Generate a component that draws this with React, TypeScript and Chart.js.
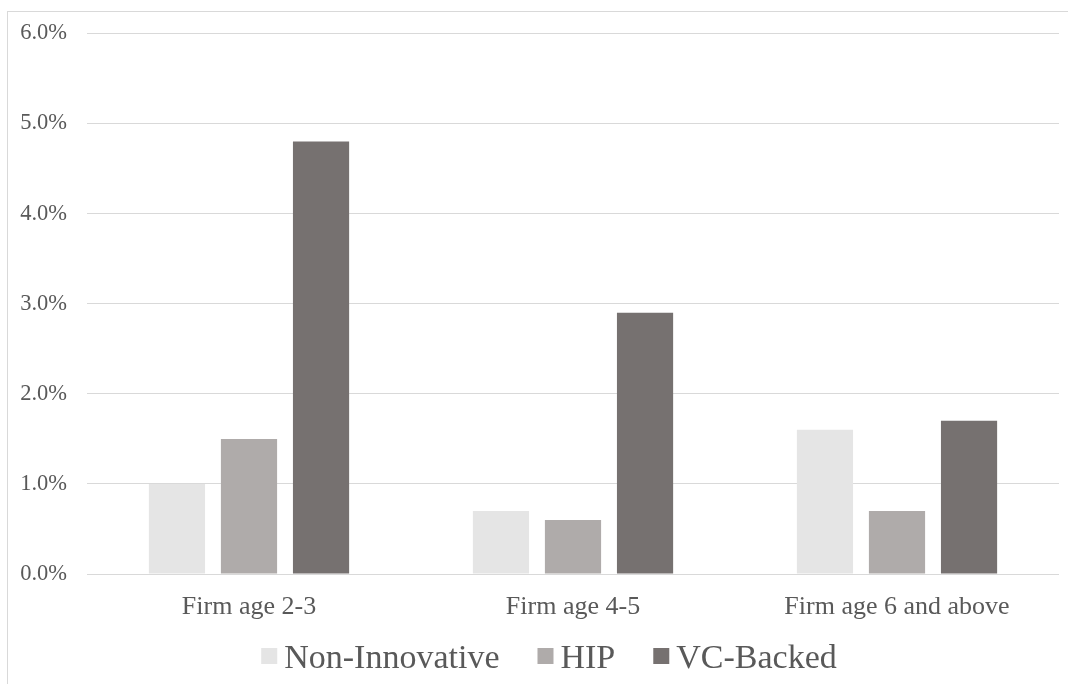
import React, { useEffect, useRef } from "react";
import { Chart, registerables } from "chart.js";

Chart.register(...registerables);

const categories = ["Firm age 2-3", "Firm age 4-5", "Firm age 6 and above"];
const nonInnovative = [1.0, 0.7, 1.6];
const hip = [1.5, 0.6, 0.7];
const vcBacked = [4.8, 2.9, 1.7];
const seriesNames = ["Non-Innovative", "HIP", "VC-Backed"];
const seriesColors = ["#e5e5e5", "#afabaa", "#767170"];
const yMax = 6;
const yStep = 1;

const FONT = "'Liberation Serif', 'Times New Roman', serif";
const TEXT = "#595959";

const legendPlugin = {
  id: "customLegend",
  afterDraw(chart: any) {
    const ctx = chart.ctx as CanvasRenderingContext2D;
    ctx.save();
    ctx.font = `34px ${FONT}`;
    const box = 16;
    const gapText = 7;
    const gapItem = 38;
    const items = chart.data.datasets.map((ds: any) => ({
      label: ds.label as string,
      color: ds.backgroundColor as string,
      w: ctx.measureText(ds.label).width,
    }));
    const total =
      items.reduce((s: number, it: any) => s + box + gapText + it.w, 0) + gapItem * (items.length - 1);
    const centerX = chart.width / 2 + 15;
    const cy = chart.height - 28;
    let x = centerX - total / 2;
    ctx.textBaseline = "middle";
    ctx.textAlign = "left";
    for (const it of items) {
      ctx.fillStyle = it.color;
      ctx.fillRect(x, cy - box / 2, box, box);
      x += box + gapText;
      ctx.fillStyle = TEXT;
      ctx.fillText(it.label, x, cy + 3);
      x += it.w + gapItem;
    }
    ctx.restore();
  },
};

export default function App() {
  const ref = useRef<HTMLCanvasElement | null>(null);
  useEffect(() => {
    if (!ref.current) return;
    const chart = new Chart(ref.current, {
      type: "bar",
      data: {
        labels: categories,
        datasets: [nonInnovative, hip, vcBacked].map((d, i) => ({
          label: seriesNames[i],
          data: d,
          backgroundColor: seriesColors[i],
          borderWidth: 0,
          categoryPercentage: 0.667,
          barPercentage: 0.78,
        })),
      },
      options: {
        animation: false,
        responsive: false,
        devicePixelRatio: 1,
        layout: { padding: { left: 20, right: 9, top: 33, bottom: 50 } },
        plugins: {
          tooltip: { enabled: false },
          legend: { display: false },
        },
        scales: {
          x: {
            grid: { display: false, drawTicks: false },
            border: { display: false },
            ticks: { color: TEXT, font: { family: FONT, size: 26 }, padding: 18 },
            afterFit: (s: any) => {
              s.height = 60;
            },
          },
          y: {
            min: 0,
            max: yMax,
            grid: { color: "#d9d9d9", drawTicks: false, lineWidth: 1 },
            border: { display: false },
            ticks: {
              stepSize: yStep,
              color: TEXT,
              font: { family: FONT, size: 22.5 },
              padding: 20,
              callback: (v: any) => Number(v).toFixed(1) + "%",
            },
            afterFit: (s: any) => {
              s.width = 67;
            },
          },
        },
      },
      plugins: [legendPlugin],
    });
    return () => chart.destroy();
  }, []);
  return (
    <div style={{ position: "absolute", left: 0, top: 0, width: 1068, height: 684, background: "#fff" }}>
      <div
        style={{
          position: "absolute",
          left: 7,
          top: 11,
          width: 1061,
          height: 673,
          borderLeft: "1px solid #d9d9d9",
          borderTop: "1px solid #d9d9d9",
        }}
      />
      <canvas ref={ref} width={1068} height={684} style={{ position: "absolute", left: 0, top: 0 }} />
    </div>
  );
}
